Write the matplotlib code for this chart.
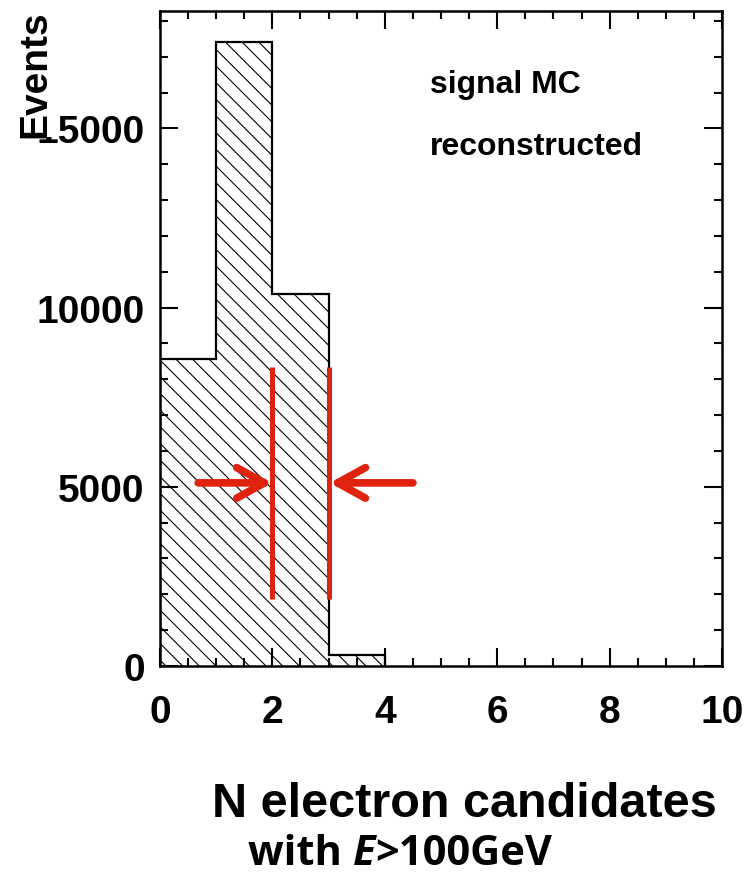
import numpy as np
import matplotlib
matplotlib.use('Agg')
import matplotlib.pyplot as plt
from matplotlib.ticker import MultipleLocator

# histogram contents (bins of width 1 in N electron candidates)
edges = [0, 1, 2, 3, 4]
counts = [8570, 17400, 10380, 315]

# red markers
cut_x = [2, 3]
cut_ylo = 1880
cut_yhi = 8350
arrow_y = 5110
arrow_left = (0.68, 2.0)   # tail, tip
arrow_right = (4.5, 3.02)

red = '#e0230f'

plt.rcParams['font.family'] = ['Liberation Sans', 'DejaVu Sans']
plt.rcParams['font.weight'] = 'bold'
plt.rcParams['hatch.linewidth'] = 0.8

fig = plt.figure(figsize=(7.49, 8.79), dpi=100)
ax = fig.add_axes([0.2136, 0.2412, 0.7504, 0.7452])

ax.stairs(counts, edges, fill=True, facecolor='none', edgecolor='black',
          hatch='\\\\', linewidth=0)
ax.stairs(counts, edges, fill=False, color='black', linewidth=1.6, baseline=0)

ax.vlines(cut_x, cut_ylo, cut_yhi, color=red, linewidth=3.6, zorder=5)
for tail, tip in [arrow_left, arrow_right]:
    ax.annotate('', xy=(tip, arrow_y), xytext=(tail, arrow_y),
                arrowprops=dict(arrowstyle='->,head_length=1.0,head_width=0.55',
                                lw=5.5, color=red, capstyle='round',
                                joinstyle='round', shrinkA=0, shrinkB=0,
                                mutation_scale=20),
                zorder=6)

ax.set_xlim(0, 10)
ax.set_ylim(0, 18280)
ax.xaxis.set_major_locator(MultipleLocator(2))
ax.xaxis.set_minor_locator(MultipleLocator(0.5))
ax.yaxis.set_major_locator(MultipleLocator(5000))
ax.yaxis.set_minor_locator(MultipleLocator(1000))
ax.tick_params(which='both', direction='in', top=True, right=True, width=1.5,
               labelsize=28)
ax.tick_params(which='major', length=13)
ax.tick_params(which='minor', length=6)
ax.tick_params(axis='x', pad=20)
ax.tick_params(axis='y', pad=11)
for lab in ax.get_xticklabels() + ax.get_yticklabels():
    lab.set_fontweight('bold')
for s in ax.spines.values():
    s.set_linewidth(1.8)

ax.text(0.480, 0.8764, 'signal MC', transform=ax.transAxes, fontsize=23,
        fontweight='bold', va='baseline')
ax.text(0.480, 0.7818, 'reconstructed', transform=ax.transAxes, fontsize=23,
        fontweight='bold', va='baseline')

fig.text(35 / 749, 1 - 74 / 879, 'Events', rotation=90, ha='center',
         va='center', fontsize=28, fontweight='bold',
         bbox=dict(facecolor='white', edgecolor='none', pad=0), zorder=10)

fig.text(464 / 749, 1 - 817 / 879, 'N electron candidates', ha='center',
         va='baseline', fontsize=35, fontweight='bold')

t1 = fig.text(248 / 749, 1 - 865 / 879, 'with ', ha='left', va='baseline',
              fontsize=30, fontweight='bold', family=['Open Sans', 'DejaVu Sans'])
a2 = ax.annotate('E', xy=(1, 0), xycoords=t1, va='bottom', ha='left',
                 fontsize=30, fontweight='bold', style='italic',
                 family=['Open Sans', 'DejaVu Sans'], annotation_clip=False)
a3 = ax.annotate('>100GeV', xy=(1, 0), xycoords=a2, va='bottom', ha='left',
                 fontsize=30, fontweight='bold',
                 family=['Open Sans', 'DejaVu Sans'], annotation_clip=False)

fig.savefig('out.png', dpi=100)
